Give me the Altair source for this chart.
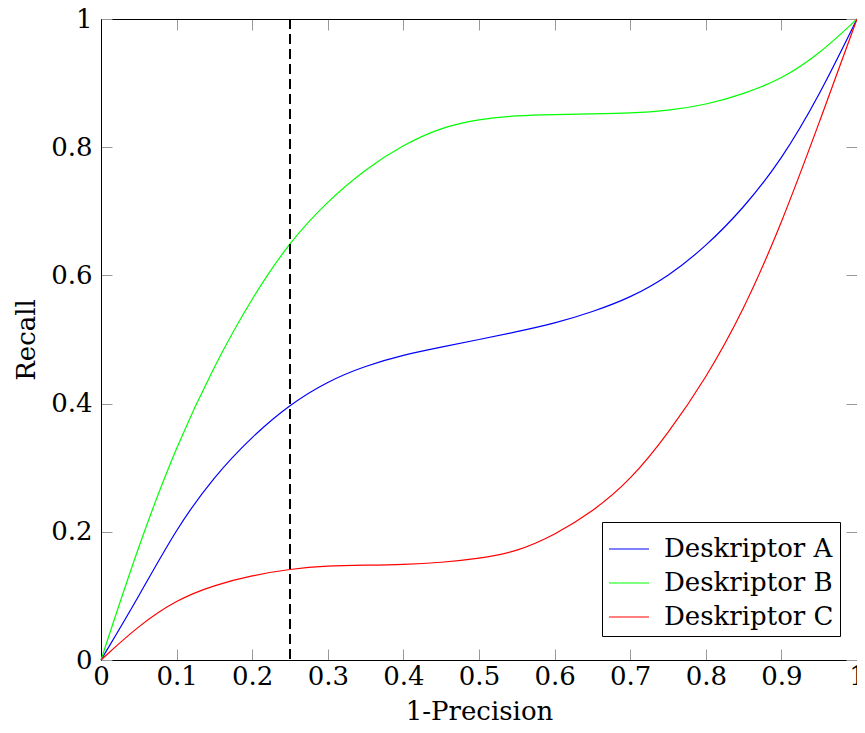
import altair as alt
import pandas as pd

# ---- data ----
x_vals = [0.00, 0.05, 0.10, 0.15, 0.20, 0.25, 0.30, 0.35, 0.40, 0.45, 0.50,
          0.55, 0.60, 0.65, 0.70, 0.75, 0.80, 0.85, 0.90, 0.95, 1.00]
recall_a = [0.000, 0.099, 0.206, 0.287, 0.349, 0.399, 0.435, 0.459, 0.476, 0.488, 0.500,
            0.512, 0.525, 0.543, 0.565, 0.598, 0.645, 0.705, 0.780, 0.880, 1.000]
recall_b = [0.000, 0.180, 0.335, 0.460, 0.566, 0.653, 0.716, 0.766, 0.804, 0.831, 0.844,
            0.8495, 0.851, 0.852, 0.853, 0.857, 0.866, 0.883, 0.906, 0.945, 1.000]
recall_c = [0.000, 0.054, 0.094, 0.117, 0.132, 0.142, 0.147, 0.148, 0.149, 0.152, 0.158,
            0.169, 0.195, 0.231, 0.280, 0.353, 0.439, 0.545, 0.680, 0.838, 1.000]
series_names = ["Deskriptor A", "Deskriptor B", "Deskriptor C"]
series_colors = ["#0000ff", "#00ff00", "#ff0000"]
threshold = [0.25]
x_ticks = [0, 0.1, 0.2, 0.3, 0.4, 0.5, 0.6, 0.7, 0.8, 0.9, 1]
y_ticks = [0, 0.2, 0.4, 0.6, 0.8, 1]

rows = []
for name, vals in zip(series_names, [recall_a, recall_b, recall_c]):
    for xv, yv in zip(x_vals, vals):
        rows.append({"x": xv, "recall": yv, "series": name})
df = pd.DataFrame(rows)
df_rule = pd.DataFrame({"x": threshold})

W, H = 756, 641
FONT = "DejaVu Serif"
FS = 26
LEG_FS = 26
TICK_COLOR = "#999999"

xs = alt.Scale(domain=[0, 1], nice=False, zero=False)
ys = alt.Scale(domain=[0, 1], nice=False, zero=False)

def tick_axis(orient, offset, values):
    return alt.Axis(orient=orient, offset=offset, values=values, labels=False,
                    domain=True, domainColor="black", domainWidth=1,
                    grid=False, ticks=True, tickSize=11,
                    tickColor=TICK_COLOR, tickWidth=1, title=None)

lines = alt.Chart(df).mark_line(strokeWidth=1.2, interpolate="basis").encode(
    x=alt.X("x:Q", scale=xs,
            axis=alt.Axis(orient="bottom", values=x_ticks, format="~g",
                          title="1-Precision", ticks=False, tickSize=0,
                          domain=False, grid=False, labelPadding=3,
                          labelFlush=False,
                          titleBaseline="alphabetic", titleY=59)),
    y=alt.Y("recall:Q", scale=ys,
            axis=alt.Axis(orient="left", values=y_ticks, format="~g",
                          title="Recall", ticks=False, tickSize=0,
                          domain=False, grid=False, labelPadding=9,
                          labelFlush=False, titlePadding=11)),
    color=alt.Color("series:N",
                    scale=alt.Scale(domain=series_names, range=series_colors),
                    legend=alt.Legend(title=None, orient="none", legendX=501,
                                      legendY=503, symbolType="stroke",
                                      symbolSize=1600, symbolStrokeWidth=1.2,
                                      labelFont=FONT, labelFontSize=LEG_FS,
                                      labelLimit=400,
                                      labelColor="black", labelOffset=14,
                                      rowPadding=-5, padding=6,
                                      strokeColor="black", fillColor="white",
                                      cornerRadius=0)),
    detail="series:N",
)

rule = alt.Chart(df_rule).mark_rule(color="black", strokeWidth=2,
                                    strokeDash=[10, 5]).encode(
    x=alt.X("x:Q", scale=xs, axis=None),
)

ticks_1 = alt.Chart(df).mark_point(opacity=0).encode(
    x=alt.X("x:Q", scale=xs, axis=tick_axis("top", -H, x_ticks)),
    y=alt.Y("recall:Q", scale=ys, axis=tick_axis("right", -W, y_ticks)),
)
ticks_2 = alt.Chart(df).mark_point(opacity=0).encode(
    x=alt.X("x:Q", scale=xs, axis=tick_axis("bottom", -H, x_ticks)),
    y=alt.Y("recall:Q", scale=ys, axis=tick_axis("left", -W, y_ticks)),
)

chart = alt.layer(ticks_1, ticks_2, lines, rule).resolve_axis(
    x="independent", y="independent"
).properties(
    width=W, height=H,
    autosize=alt.AutoSizeParams(type="none"),
    padding={"left": 93, "top": 11, "right": 0, "bottom": 61},
).configure(
    font=FONT
).configure_view(
    stroke="black", strokeWidth=1
).configure_axis(
    labelFont=FONT, titleFont=FONT, labelFontSize=FS, titleFontSize=FS,
    labelColor="black", titleColor="black", titleFontWeight="normal",
)

chart.save("out.html", embed_options={"renderer": "svg", "actions": False})
